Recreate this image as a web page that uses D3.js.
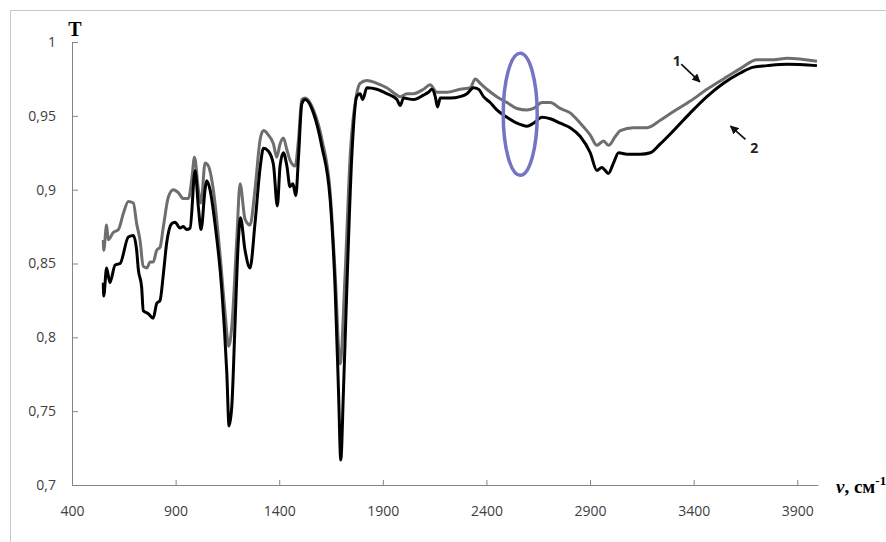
<!DOCTYPE html>
<html>
<head>
<meta charset="utf-8">
<script src="https://cdn.jsdelivr.net/npm/d3@7"></script>
<style>
  body { margin: 0; background: #fff; }
  svg { display: block; }
</style>
</head>
<body>
<div id="chart"></div>
<script>
// IR spectra, curve 1 (gray) and curve 2 (black)
var xTicks = [400, 900, 1400, 1900, 2400, 2900, 3400, 3900];
var yTicks = [0.7, 0.75, 0.8, 0.85, 0.9, 0.95, 1];

var nu2 = [551, 553, 567, 583, 608, 632, 672, 696, 712, 720, 736, 744, 768, 792, 809, 825, 841, 857, 881, 897,
  921, 937, 954, 970, 994, 1010, 1023, 1042, 1050, 1066, 1090, 1123, 1147, 1158, 1171, 1187, 1203, 1213, 1235, 1259,
  1283, 1308, 1324, 1348, 1372, 1391, 1404, 1420, 1437, 1452, 1466, 1480, 1493, 1509, 1525, 1565, 1606, 1646, 1670, 1686,
  1697, 1710, 1726, 1750, 1774, 1790, 1803, 1823, 1871, 1919, 1968, 1984, 2000, 2048, 2096, 2120, 2137, 2153, 2164, 2177,
  2225, 2273, 2306, 2337, 2362, 2386, 2418, 2450, 2499, 2547, 2595, 2627, 2668, 2708, 2756, 2804, 2853, 2901, 2933, 2957,
  2973, 2989, 3013, 3038, 3078, 3142, 3191, 3239, 3303, 3384, 3464, 3544, 3625, 3689, 3754, 3851, 3995];
var t2 = [0.837, 0.828, 0.847, 0.837, 0.849, 0.850, 0.868, 0.869, 0.859, 0.846, 0.834, 0.818, 0.816, 0.813, 0.823, 0.825, 0.843, 0.864, 0.877, 0.878,
  0.874, 0.875, 0.873, 0.874, 0.913, 0.888, 0.873, 0.900, 0.906, 0.900, 0.877, 0.832, 0.776, 0.740, 0.753, 0.810, 0.866, 0.881, 0.859, 0.847,
  0.877, 0.915, 0.928, 0.926, 0.917, 0.889, 0.916, 0.925, 0.916, 0.902, 0.904, 0.896, 0.922, 0.958, 0.961, 0.952, 0.929, 0.893, 0.832, 0.764,
  0.717, 0.764, 0.832, 0.922, 0.963, 0.965, 0.961, 0.969, 0.968, 0.965, 0.961, 0.957, 0.962, 0.961, 0.964, 0.966, 0.968, 0.963, 0.956, 0.962,
  0.962, 0.963, 0.965, 0.969, 0.968, 0.963, 0.959, 0.954, 0.949, 0.945, 0.943, 0.945, 0.949, 0.948, 0.945, 0.942, 0.936, 0.925, 0.913, 0.915,
  0.913, 0.911, 0.918, 0.925, 0.924, 0.924, 0.925, 0.931, 0.940, 0.952, 0.963, 0.972, 0.979, 0.983, 0.984, 0.985, 0.984];

var nu1 = [551, 553, 567, 575, 599, 624, 648, 672, 696, 712, 728, 744, 761, 777, 792, 809, 825, 841, 865, 889,
  913, 937, 962, 978, 991, 1010, 1023, 1042, 1058, 1082, 1115, 1139, 1156, 1171, 1195, 1211, 1235, 1259, 1283, 1308,
  1324, 1348, 1372, 1388, 1404, 1420, 1437, 1452, 1477, 1493, 1509, 1525, 1565, 1606, 1646, 1670, 1694, 1718, 1742, 1774,
  1790, 1823, 1871, 1919, 1968, 1984, 2016, 2048, 2096, 2128, 2161, 2209, 2273, 2322, 2346, 2370, 2402, 2450, 2499, 2547,
  2595, 2627, 2668, 2708, 2756, 2804, 2853, 2901, 2933, 2965, 2989, 3022, 3046, 3110, 3175, 3239, 3303, 3384, 3464, 3544,
  3625, 3706, 3786, 3851, 3995];
var t1 = [0.866, 0.859, 0.876, 0.866, 0.871, 0.873, 0.884, 0.892, 0.891, 0.877, 0.866, 0.848, 0.847, 0.851, 0.851, 0.859, 0.861, 0.875, 0.895, 0.900,
  0.898, 0.894, 0.894, 0.907, 0.922, 0.900, 0.891, 0.918, 0.916, 0.900, 0.855, 0.816, 0.794, 0.807, 0.866, 0.904, 0.880, 0.876, 0.900, 0.934,
  0.940, 0.937, 0.931, 0.922, 0.931, 0.935, 0.927, 0.920, 0.916, 0.934, 0.961, 0.962, 0.954, 0.934, 0.898, 0.843, 0.782, 0.843, 0.922, 0.965,
  0.972, 0.974, 0.972, 0.969, 0.964, 0.963, 0.965, 0.965, 0.968, 0.971, 0.966, 0.966, 0.968, 0.969, 0.975, 0.972, 0.968, 0.963, 0.959, 0.955,
  0.954, 0.955, 0.959, 0.959, 0.955, 0.952, 0.945, 0.937, 0.930, 0.933, 0.930, 0.936, 0.940, 0.942, 0.942, 0.947, 0.953, 0.960, 0.968, 0.975,
  0.982, 0.988, 0.988, 0.989, 0.987];

var w = 886;
var h = 542;

var svg = d3.select("#chart")
  .append("svg")
  .attr("width", w)
  .attr("height", h);

// outer chart frame
svg.append("rect")
  .attr("x", 10.5)
  .attr("y", 10.5)
  .attr("width", 900)
  .attr("height", 600)
  .attr("fill", "none")
  .attr("stroke", "#c8c8c8");

var x = d3.scaleLinear().domain([400, 4000]).range([72, 818]);
var y = d3.scaleLinear().domain([0.7, 1]).range([485, 42]);

var fmt = function(v) { return String(+v.toFixed(2)).replace(".", ","); };

var xAxis = svg.append("g")
  .attr("transform", "translate(0," + y(0.7) + ")")
  .call(d3.axisBottom(x).tickValues(xTicks).tickFormat(d3.format("d"))
    .tickSizeInner(-5).tickSizeOuter(0).tickPadding(21));

var yAxis = svg.append("g")
  .attr("transform", "translate(" + x(400) + ",0)")
  .call(d3.axisLeft(y).tickValues(yTicks).tickFormat(fmt).tickSizeInner(-6).tickSizeOuter(0).tickPadding(16));

[xAxis, yAxis].forEach(function(g) {
  g.selectAll("path, line").attr("stroke", "#868686");
  g.selectAll("text")
    .attr("fill", "#404040")
    .style("font-family", "'Open Sans', sans-serif")
    .style("font-size", "14px");
});

var line = d3.line()
  .x(function(d) { return x(d[0]); })
  .y(function(d) { return y(d[1]); })
  .curve(d3.curveMonotoneX);

var series1 = d3.zip(nu1, t1);
var series2 = d3.zip(nu2, t2);

svg.append("path")
  .datum(series1)
  .attr("d", line)
  .attr("fill", "none")
  .attr("stroke", "#6e6e6e")
  .attr("stroke-width", 3)
  .attr("stroke-linejoin", "round");

svg.append("path")
  .datum(series2)
  .attr("d", line)
  .attr("fill", "none")
  .attr("stroke", "#000")
  .attr("stroke-width", 3)
  .attr("stroke-linejoin", "round");

// highlighted region
svg.append("ellipse")
  .attr("cx", x(2563))
  .attr("cy", y(0.951))
  .attr("rx", 17)
  .attr("ry", 61)
  .attr("fill", "none")
  .attr("stroke", "#7474c2")
  .attr("stroke-width", 3.5);

// arrows and curve numbers
svg.append("defs").append("marker")
  .attr("id", "arr")
  .attr("viewBox", "0 0 10 10")
  .attr("refX", 9)
  .attr("refY", 5)
  .attr("markerWidth", 5)
  .attr("markerHeight", 5)
  .attr("markerUnits", "strokeWidth")
  .attr("orient", "auto")
  .append("path")
  .attr("d", "M0,0L10,5L0,10z")
  .attr("fill", "#111");

svg.append("line")
  .attr("x1", x(3340)).attr("y1", y(0.985))
  .attr("x2", x(3430)).attr("y2", y(0.973))
  .attr("stroke", "#111").attr("stroke-width", 1.7)
  .attr("marker-end", "url(#arr)");

svg.append("line")
  .attr("x1", x(3650)).attr("y1", y(0.934))
  .attr("x2", x(3578)).attr("y2", y(0.943))
  .attr("stroke", "#111").attr("stroke-width", 1.7)
  .attr("marker-end", "url(#arr)");

svg.append("text")
  .attr("x", x(3319))
  .attr("y", y(0.984))
  .attr("text-anchor", "middle")
  .style("font-family", "'Open Sans', sans-serif")
  .style("font-size", "14px")
  .style("font-weight", "bold")
  .attr("fill", "#222")
  .text("1");

svg.append("text")
  .attr("x", x(3692))
  .attr("y", y(0.925))
  .attr("text-anchor", "middle")
  .style("font-family", "'Open Sans', sans-serif")
  .style("font-size", "14px")
  .style("font-weight", "bold")
  .attr("fill", "#222")
  .text("2");

// axis titles
svg.append("text")
  .attr("x", 75)
  .attr("y", 36)
  .attr("text-anchor", "middle")
  .style("font-family", "'Liberation Serif', 'Times New Roman', serif")
  .style("font-size", "20px")
  .style("font-weight", "bold")
  .text("T");

var xt = svg.append("text")
  .attr("x", 836)
  .attr("y", 493)
  .style("font-family", "'Liberation Serif', 'Times New Roman', serif")
  .style("font-size", "19px")
  .style("font-weight", "bold");
xt.append("tspan").style("font-style", "italic").text("ν");
xt.append("tspan").text(", см");
xt.append("tspan").attr("dy", -8).style("font-size", "13px").text("-1");
</script>
</body>
</html>
